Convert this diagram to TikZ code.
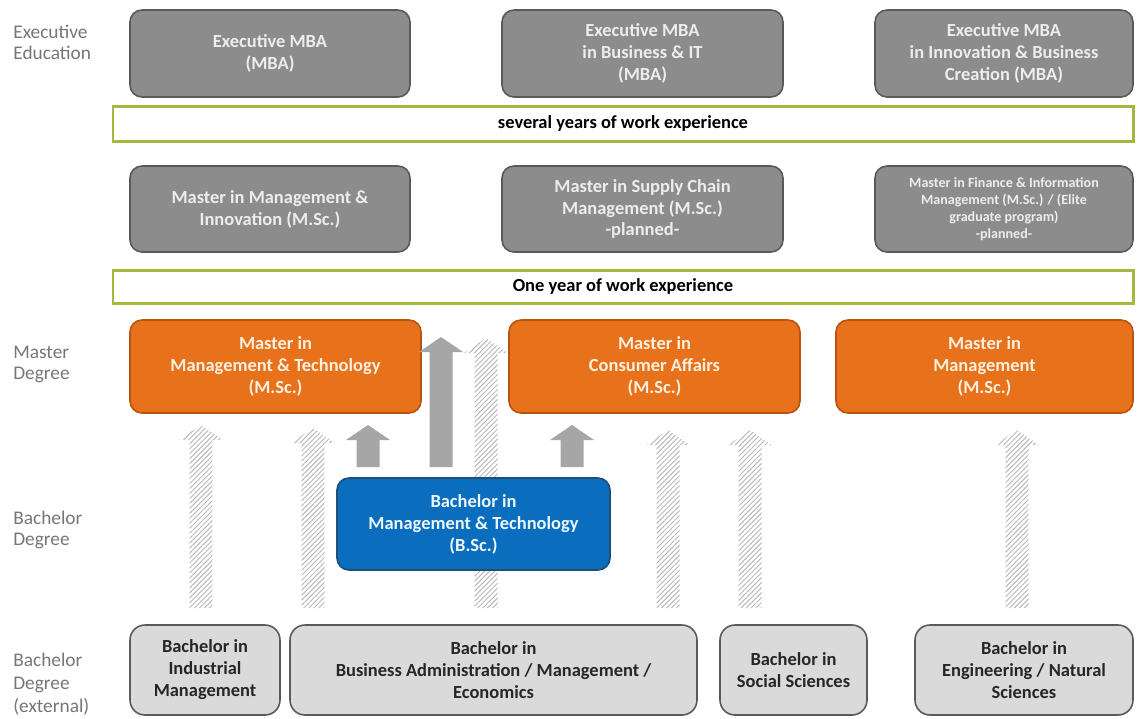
\documentclass[tikz,border=0pt]{standalone}
\usepackage{fontspec}
\setmainfont{Carlito}
\usetikzlibrary{patterns.meta}

\definecolor{boxgray}{HTML}{8C8C8C}
\definecolor{boxedge}{HTML}{5A5A5A}
\definecolor{lightbox}{HTML}{DADADA}
\definecolor{orangebox}{HTML}{E8711C}
\definecolor{orangeedge}{HTML}{B85410}
\definecolor{bluebox}{HTML}{0A6DBE}
\definecolor{blueedge}{HTML}{1F4E79}
\definecolor{barline}{HTML}{A2B93E}
\definecolor{labelgray}{HTML}{767676}
\definecolor{arrowgray}{HTML}{A6A6A6}

% box from corner (#3,#4) to corner (#5,#6), in pixels
\newcommand{\pbox}[7]{\node[#1, minimum width={(#5-#3)*0.02cm}, minimum height={(#6-#4)*0.02cm}] (#2) at ({(#3+#5)/2},{(#4+#6)/2}) {#7};}
% block arrow: style, x of centre, y of foot, y of tip
\newcommand{\uparr}[4]{\fill[#1] (#2-11.5,#3) -- (#2-11.5,#4+15) -- (#2-22,#4+15) -- (#2,#4) -- (#2+22,#4+15) -- (#2+11.5,#4+15) -- (#2+11.5,#3) -- cycle;}

\begin{document}
\begin{tikzpicture}[x=0.02cm, y=-0.02cm,
    font=\fontsize{10.5}{12.5}\selectfont\bfseries,
    darkbox/.style={draw=boxedge, line width=0.9pt, fill=boxgray, rounded corners=0.24cm, inner sep=0pt, align=center, text=white!93!black},
    orabox/.style={draw=orangeedge, line width=0.9pt, fill=orangebox, rounded corners=0.24cm, inner sep=0pt, align=center, text=orange!12!white},
    blubox/.style={draw=blueedge, line width=0.9pt, fill=bluebox, rounded corners=0.24cm, inner sep=0pt, align=center, text=cyan!8!white},
    extbox/.style={draw=boxedge, line width=0.9pt, fill=lightbox, rounded corners=0.3cm, inner sep=0pt, align=center, text=black!85},
    expbar/.style={draw=barline, line width=1.7pt, fill=white, inner sep=0pt, text=black},
    rowlabel/.style={anchor=north west, align=left, inner sep=0pt, text=labelgray, font=\fontsize{11}{12}\selectfont},
    hatched/.style={pattern={Lines[angle=45, distance=2pt, line width=0.55pt]}, pattern color=black!28},
    solid/.style={fill=arrowgray}]

\useasboundingbox (0,0) rectangle (1144,718);

%%%%% row labels %%%%%
\node[rowlabel] (lexec) at (13,25) {Executive\\Education};
\node[rowlabel] (lmaster) at (13,346) {Master\\Degree};
\node[rowlabel] (lbach) at (13,511) {Bachelor\\Degree};
\node[rowlabel, font=\fontsize{11}{13}\selectfont] (lext) at (13,653) {Bachelor\\Degree\\(external)};

%%%%% hatched arrows (behind the boxes) %%%%%
\uparr{hatched}{201}{608}{425}
\uparr{hatched}{313}{608}{428}
\uparr{hatched}{486}{608}{338}
\uparr{hatched}{668}{608}{430}
\uparr{hatched}{750}{608}{430}
\uparr{hatched}{1017}{608}{430}

%%%%% executive education %%%%%
\pbox{darkbox}{mba}{130}{10}{410}{97}{Executive MBA\\(MBA)}
\pbox{darkbox}{mbait}{502}{10}{783}{97}{Executive MBA\\in Business \& IT\\(MBA)}
\pbox{darkbox}{mbaibc}{875}{10}{1133}{97}{Executive MBA\\in Innovation \& Business\\Creation (MBA)}

\pbox{expbar}{years}{113}{106}{1133}{141}{several years of work experience}

%%%%% further masters %%%%%
\pbox{darkbox}{mmi}{130}{166}{410}{252}{Master in Management \&\\Innovation (M.Sc.)}
\pbox{darkbox}{msc}{502}{166}{783}{252}{Master in Supply Chain\\Management (M.Sc.)\\-planned-}
\pbox{darkbox, font=\fontsize{8}{9.6}\selectfont\bfseries}{mfim}{875}{166}{1133}{252}{Master in Finance \& Information\\Management (M.Sc.) / (Elite\\graduate program)\\-planned-}

\pbox{expbar}{oneyear}{113}{270}{1133}{303}{One year of work experience}

%%%%% master degree %%%%%
\pbox{orabox}{mmt}{130}{320}{421}{413}{Master in\\Management \& Technology\\(M.Sc.)}
\pbox{orabox}{mca}{509}{320}{800}{413}{Master in\\Consumer Affairs\\(M.Sc.)}
\pbox{orabox}{mm}{836}{320}{1133}{413}{Master in\\Management\\(M.Sc.)}

%%%%% bachelor degree %%%%%
\pbox{blubox}{bmt}{337}{478}{610}{570}{Bachelor in\\Management \& Technology\\(B.Sc.)}

\uparr{solid}{368}{467}{425}
\uparr{solid}{441}{467}{337}
\uparr{solid}{572}{467}{425}

%%%%% external bachelors %%%%%
\pbox{extbox}{bim}{130}{625}{280}{715}{Bachelor in\\Industrial\\Management}
\pbox{extbox}{bba}{290}{625}{697}{715}{Bachelor in\\Business Administration / Management /\\Economics}
\pbox{extbox}{bss}{720}{625}{867}{715}{Bachelor in\\Social Sciences}
\pbox{extbox}{bens}{915}{625}{1133}{715}{Bachelor in\\Engineering / Natural\\Sciences}

\end{tikzpicture}
\end{document}
